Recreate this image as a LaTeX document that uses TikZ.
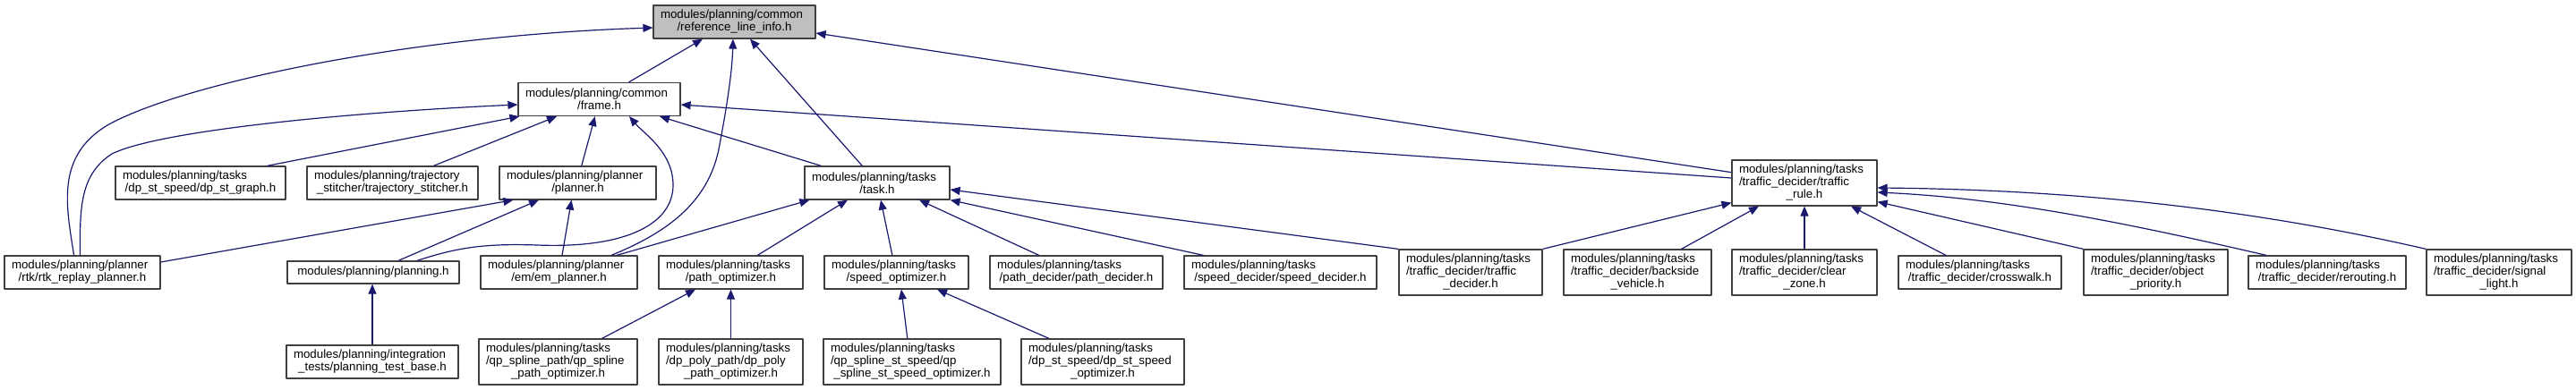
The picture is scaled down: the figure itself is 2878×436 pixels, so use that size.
\documentclass[tikz,border=0pt]{standalone}
\usepackage{fontspec}
\setmainfont{Liberation Sans}
\usetikzlibrary{arrows.meta}
\definecolor{depEdge}{HTML}{191970}
\definecolor{depLine}{HTML}{404040}
\definecolor{depRoot}{HTML}{BFBFBF}
\newcommand\lastln[1]{\makebox[\linewidth]{#1}}

\begin{document}
\begin{tikzpicture}[x=1pt,y=-1pt,>={Triangle[length=11pt,width=9pt]},line join=round]
\path[fill=white] (0,0) rectangle (2878,436);
\useasboundingbox (0,0) rectangle (2878,436);
\tikzset{hfile/.style={draw=depLine,fill=white,line width=1.2pt,inner xsep=8pt,inner ysep=0pt,align=left,font=\fontsize{13.3}{14}\selectfont,minimum width=#1pt,text width=#1pt-16pt},one/.style={minimum height=25pt},two/.style={minimum height=37pt},three/.style={minimum height=51pt},inc/.style={draw=depEdge,line width=1.2pt,->}}
\node[hfile=181,two,fill=depRoot] (root) at (820.5,24.5) {modules/planning/common\\\lastln{/reference\_line\_info.h}};
\node[hfile=181,two] (frame) at (669.5,111) {modules/planning/common\\\lastln{/frame.h}};
\node[hfile=190,two] (dpgraph) at (224,204.5) {modules/planning/tasks\\\lastln{/dp\_st\_speed/dp\_st\_graph.h}};
\node[hfile=191,two] (stitcher) at (438.5,204.5) {modules/planning/trajectory\\\lastln{\_stitcher/trajectory\_stitcher.h}};
\node[hfile=175,two] (planner) at (645.5,204.5) {modules/planning/planner\\\lastln{/planner.h}};
\node[hfile=162,two] (task) at (980,204.5) {modules/planning/tasks\\\lastln{/task.h}};
\node[hfile=162,three] (rule) at (2016,204.5) {modules/planning/tasks\\/traffic\_decider/traffic\\\lastln{\_rule.h}};
\node[hfile=174,two] (rtk) at (92,304.5) {modules/planning/planner\\\lastln{/rtk/rtk\_replay\_planner.h}};
\node[hfile=192,one] (planning) at (417,304.5) {\lastln{modules/planning/planning.h}};
\node[hfile=175,two] (em) at (624.5,304.5) {modules/planning/planner\\\lastln{/em/em\_planner.h}};
\node[hfile=161,two] (pathopt) at (816.5,304.5) {modules/planning/tasks\\\lastln{/path\_optimizer.h}};
\node[hfile=161,two] (speedopt) at (1001.5,304.5) {modules/planning/tasks\\\lastln{/speed\_optimizer.h}};
\node[hfile=193,two] (pathdec) at (1202.5,304.5) {modules/planning/tasks\\\lastln{/path\_decider/path\_decider.h}};
\node[hfile=215,two] (speeddec) at (1430.5,304.5) {modules/planning/tasks\\\lastln{/speed\_decider/speed\_decider.h}};
\node[hfile=160,three] (tdecider) at (1643,304.5) {modules/planning/tasks\\/traffic\_decider/traffic\\\lastln{\_decider.h}};
\node[hfile=165,three] (backside) at (1829.5,304.5) {modules/planning/tasks\\/traffic\_decider/backside\\\lastln{\_vehicle.h}};
\node[hfile=162,three] (clearzone) at (2016,304.5) {modules/planning/tasks\\/traffic\_decider/clear\\\lastln{\_zone.h}};
\node[hfile=182,two] (crosswalk) at (2212,304.5) {modules/planning/tasks\\\lastln{/traffic\_decider/crosswalk.h}};
\node[hfile=161,three] (objprio) at (2408.5,304.5) {modules/planning/tasks\\/traffic\_decider/object\\\lastln{\_priority.h}};
\node[hfile=176,two] (rerouting) at (2600,304.5) {modules/planning/tasks\\\lastln{/traffic\_decider/rerouting.h}};
\node[hfile=162,three] (signal) at (2792,304.5) {modules/planning/tasks\\/traffic\_decider/signal\\\lastln{\_light.h}};
\node[hfile=192,two] (testbase) at (416,404.5) {modules/planning/integration\\\lastln{\_tests/planning\_test\_base.h}};
\node[hfile=177,three] (qppath) at (623.5,404.5) {modules/planning/tasks\\/qp\_spline\_path/qp\_spline\\\lastln{\_path\_optimizer.h}};
\node[hfile=161,three] (dppoly) at (816.5,404.5) {modules/planning/tasks\\/dp\_poly\_path/dp\_poly\\\lastln{\_path\_optimizer.h}};
\node[hfile=198,three] (qpst) at (1019,404.5) {modules/planning/tasks\\/qp\_spline\_st\_speed/qp\\\lastln{\_spline\_st\_speed\_optimizer.h}};
\node[hfile=182,three] (dpstopt) at (1232,404.5) {modules/planning/tasks\\/dp\_st\_speed/dp\_st\_speed\\\lastln{\_optimizer.h}};
\draw[inc] ([xshift=33pt]frame.north) -- ([xshift=-35.5pt]root.south);
\draw[inc] ([xshift=-9.4pt]rtk.north) .. controls (74,230) and (62,175) .. (120,140) .. controls (200,95) and (450,40) .. ([yshift=-6.5pt]root.west);
\draw[inc] ([xshift=58.5pt]em.north) .. controls (740,262) and (790,230) .. (803,167) .. controls (812,120) and (818,80) .. ([xshift=-1.5pt]root.south);
\draw[inc] ([xshift=-16.7pt]task.north) -- ([xshift=17.5pt]root.south);
\draw[inc] ([yshift=11.8pt]rule.west) -- ([yshift=-12.5pt]root.east);
\draw[inc] ([xshift=-2.5pt]rtk.north) .. controls (89,230) and (90,195) .. (125,172) .. controls (180,145) and (400,125) .. ([yshift=-6pt]frame.west);
\draw[inc] ([xshift=74.4pt]dpgraph.north) -- ([xshift=2pt]frame.south west);
\draw[inc] ([xshift=45.9pt]stitcher.north) -- ([xshift=-47.5pt]frame.south);
\draw[inc] ([xshift=4.2pt]planner.north) -- ([xshift=-4.7pt]frame.south);
\draw[inc] ([xshift=49pt]planning.north) .. controls (510,277) and (540,272) .. (600,274) .. controls (700,278) and (752,250) .. (752,207) .. controls (752,170) and (720,150) .. ([xshift=33.5pt]frame.south);
\draw[inc] ([xshift=-62.6pt]task.north) -- ([xshift=67.5pt]frame.south);
\draw[inc] ([yshift=5.5pt]rule.west) -- ([yshift=-6pt]frame.east);
\draw[inc] ([yshift=11.5pt]rtk.east) -- ([xshift=16pt]planner.south west);
\draw[inc] ([xshift=28pt]planning.north) -- ([xshift=-43.5pt]planner.south);
\draw[inc] ([xshift=3.5pt]em.north) -- ([xshift=-7pt]planner.south);
\draw[inc] (testbase.north) -- (testbase.north |- planning.south);
\draw[inc] ([xshift=64.5pt]em.north) -- ([xshift=6pt]task.south west);
\draw[inc] ([xshift=29.8pt]pathopt.north) -- ([xshift=-33pt]task.south);
\draw[inc] ([xshift=-4.6pt]speedopt.north) -- ([xshift=4pt]task.south);
\draw[inc] ([xshift=-41.7pt]pathdec.north) -- ([xshift=47pt]task.south);
\draw[inc] ([xshift=-86pt]speeddec.north) -- (task.south east);
\draw[inc] (tdecider.north west) -- ([yshift=-7.5pt]task.east);
\draw[inc] ([xshift=49pt]qppath.north) -- ([xshift=-39.5pt]pathopt.south);
\draw[inc] (dppoly.north) -- (pathopt.south);
\draw[inc] ([xshift=-5.2pt]qpst.north) -- ([xshift=5.5pt]speedopt.south);
\draw[inc] ([xshift=-60pt]dpstopt.north) -- ([xshift=45.5pt]speedopt.south);
\draw[inc] (tdecider.north east) -- ([yshift=4pt]rule.south west);
\draw[inc] ([xshift=49pt]backside.north) -- ([xshift=-51pt]rule.south);
\draw[inc] (clearzone.north) -- (rule.south);
\draw[inc] ([xshift=-38pt]crosswalk.north) -- ([xshift=52pt]rule.south);
\draw[inc] (objprio.north west) -- ([yshift=5pt]rule.south east);
\draw[inc] ([xshift=-68pt]rerouting.north) .. controls (2400,255) and (2250,222) .. ([yshift=-10.5pt]rule.east);
\draw[inc] (signal.north west) .. controls (2500,230) and (2300,212) .. ([yshift=-5.5pt]rule.east);
\end{tikzpicture}
\end{document}
